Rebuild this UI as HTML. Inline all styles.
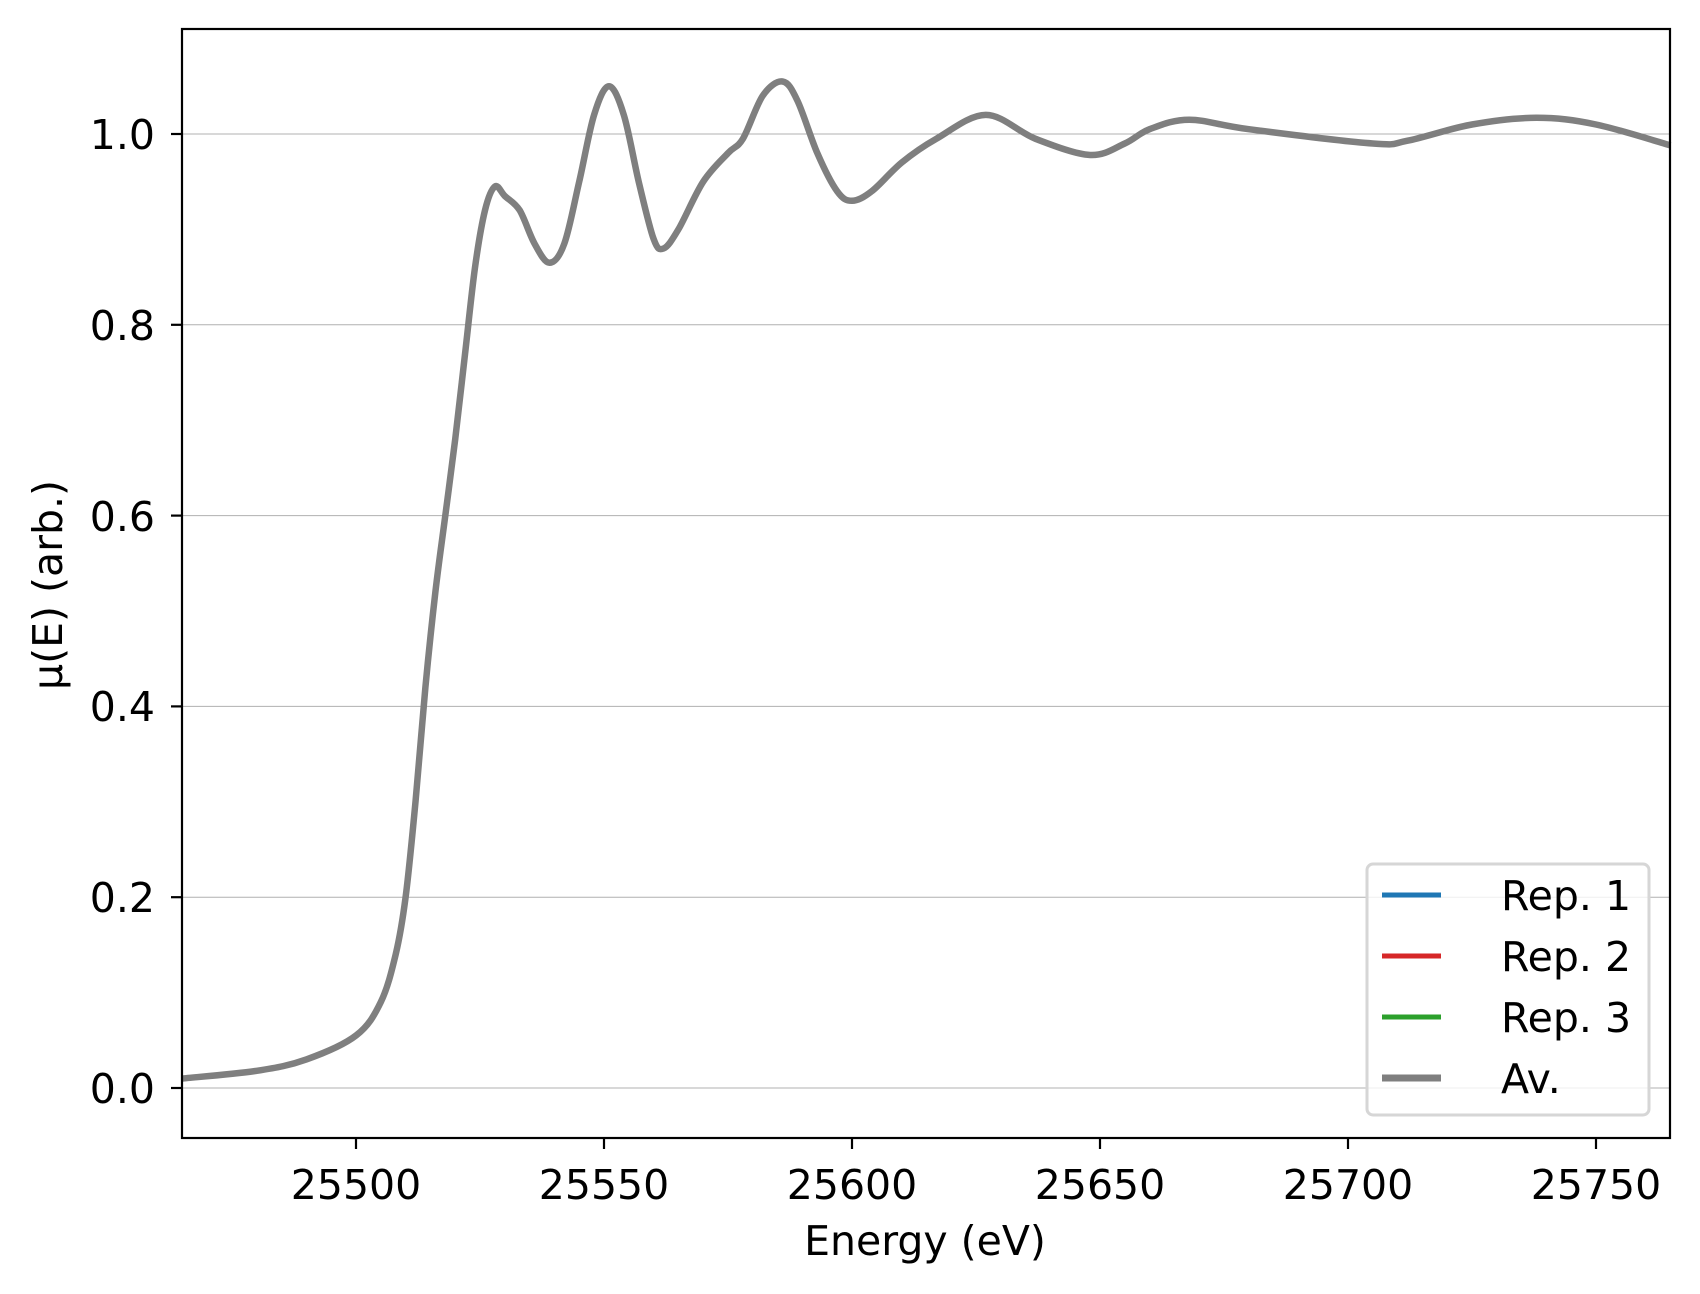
<!DOCTYPE html>
<html><head><meta charset="utf-8"><style>
html,body{margin:0;padding:0;background:#fff;}
svg{display:block;font-family:"DejaVu Sans","Liberation Sans",sans-serif;}
</style></head><body>
<svg id="s" width="1700" height="1294" viewBox="0 0 1700 1294" xmlns="http://www.w3.org/2000/svg">
<rect width="1700" height="1294" fill="#fff"/>
<g stroke="#b0b0b0" stroke-width="1">
<line x1="182" x2="1670" y1="1088" y2="1088"/>
<line x1="182" x2="1670" y1="897.2" y2="897.2"/>
<line x1="182" x2="1670" y1="706.4" y2="706.4"/>
<line x1="182" x2="1670" y1="515.6" y2="515.6"/>
<line x1="182" x2="1670" y1="324.8" y2="324.8"/>
<line x1="182" x2="1670" y1="134" y2="134"/>
</g>
<path id="curve" fill="none" stroke="#7f7f7f" stroke-width="6.5" stroke-linejoin="round" d=""/>
<rect x="182" y="29" width="1488" height="1109" fill="none" stroke="#000" stroke-width="2.2"/>
<g stroke="#000" stroke-width="2.2">
<line x1="182" x2="171" y1="1088" y2="1088"/>
<line x1="182" x2="171" y1="897.2" y2="897.2"/>
<line x1="182" x2="171" y1="706.4" y2="706.4"/>
<line x1="182" x2="171" y1="515.6" y2="515.6"/>
<line x1="182" x2="171" y1="324.8" y2="324.8"/>
<line x1="182" x2="171" y1="134" y2="134"/>
<line x1="356" x2="356" y1="1138" y2="1149"/>
<line x1="604" x2="604" y1="1138" y2="1149"/>
<line x1="852" x2="852" y1="1138" y2="1149"/>
<line x1="1100" x2="1100" y1="1138" y2="1149"/>
<line x1="1348" x2="1348" y1="1138" y2="1149"/>
<line x1="1596" x2="1596" y1="1138" y2="1149"/>
</g>
<g font-size="41" fill="#000" text-anchor="end">
<text x="155" y="1103">0.0</text>
<text x="155" y="912">0.2</text>
<text x="155" y="721">0.4</text>
<text x="155" y="531">0.6</text>
<text x="155" y="340">0.8</text>
<text x="155" y="149">1.0</text>
</g>
<g font-size="41" fill="#000" text-anchor="middle">
<text x="356" y="1199">25500</text>
<text x="604" y="1199">25550</text>
<text x="852" y="1199">25600</text>
<text x="1100" y="1199">25650</text>
<text x="1348" y="1199">25700</text>
<text x="1596" y="1199">25750</text>
<text x="925" y="1255">Energy (eV)</text>
<text transform="translate(62,585) rotate(-90)">μ(E) (arb.)</text>
</g>
<rect x="1367" y="864" width="282" height="251" rx="6" fill="#fff" fill-opacity="0.8" stroke="#d6d6d6" stroke-width="3"/>
<g stroke-width="5">
<line x1="1382" x2="1441" y1="895" y2="895" stroke="#1f77b4"/>
<line x1="1382" x2="1441" y1="956" y2="956" stroke="#d62728"/>
<line x1="1382" x2="1441" y1="1017" y2="1017" stroke="#2ca02c"/>
<line x1="1382" x2="1441" y1="1078" y2="1078" stroke="#7f7f7f" stroke-width="7"/>
</g>
<g font-size="41" fill="#000">
<text x="1501" y="910">Rep. 1</text>
<text x="1501" y="971">Rep. 2</text>
<text x="1501" y="1032">Rep. 3</text>
<text x="1501" y="1093">Av.</text>
</g>
</svg>
<script>
var d=[[25465,0.01],[25480,0.018],[25490,0.03],[25500,0.055],[25505,0.09],[25508,0.14],[25510,0.2],[25512,0.3],[25514,0.42],[25516,0.52],[25518,0.6],[25520,0.68],[25522,0.77],[25524,0.86],[25526,0.92],[25528,0.945],[25530,0.935],[25533,0.92],[25536,0.885],[25539,0.865],[25542,0.885],[25545,0.95],[25548,1.02],[25551,1.05],[25554,1.02],[25557,0.95],[25560,0.89],[25562,0.88],[25565,0.9],[25570,0.95],[25575,0.98],[25578,0.995],[25582,1.04],[25586,1.055],[25589,1.035],[25593,0.98],[25597,0.94],[25600,0.93],[25604,0.94],[25610,0.97],[25617,0.995],[25627,1.02],[25637,0.995],[25648,0.978],[25655,0.99],[25660,1.005],[25668,1.015],[25680,1.005],[25705,0.99],[25712,0.993],[25725,1.01],[25738,1.017],[25750,1.01],[25765,0.988]];
var p=d.map(function(a){return [356+(a[0]-25500)*4.96,1088-a[1]*954];});
var s="M"+p[0][0].toFixed(1)+","+p[0][1].toFixed(1);
for(var i=0;i<p.length-1;i++){var p0=p[Math.max(0,i-1)],p1=p[i],p2=p[i+1],p3=p[Math.min(p.length-1,i+2)];
var c1=[p1[0]+(p2[0]-p0[0])/6,p1[1]+(p2[1]-p0[1])/6],c2=[p2[0]-(p3[0]-p1[0])/6,p2[1]-(p3[1]-p1[1])/6];
s+="C"+c1[0].toFixed(1)+","+c1[1].toFixed(1)+" "+c2[0].toFixed(1)+","+c2[1].toFixed(1)+" "+p2[0].toFixed(1)+","+p2[1].toFixed(1);}
document.getElementById("curve").setAttribute("d",s);
</script>
</body></html>
